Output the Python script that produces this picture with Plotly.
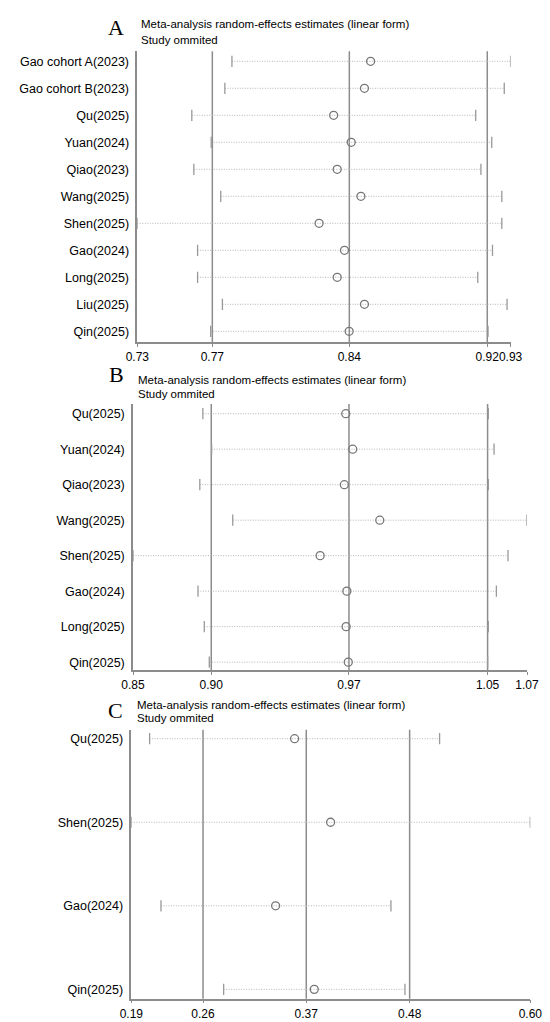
import plotly.graph_objects as go

# panel A
a_studies = ["Gao cohort A(2023)", "Gao cohort B(2023)", "Qu(2025)", "Yuan(2024)", "Qiao(2023)",
             "Wang(2025)", "Shen(2025)", "Gao(2024)", "Long(2025)", "Liu(2025)", "Qin(2025)"]
a_est = [0.8550, 0.8517, 0.8352, 0.8446, 0.8371, 0.8498, 0.8274, 0.8410, 0.8371, 0.8517, 0.8435]
a_lo = [0.7807, 0.7769, 0.7592, 0.7696, 0.7603, 0.7747, 0.7300, 0.7623, 0.7623, 0.7756, 0.7693]
a_hi = [0.9300, 0.9266, 0.9113, 0.9199, 0.9141, 0.9253, 0.9253, 0.9203, 0.9124, 0.9281, 0.9179]
a_lines = [0.7702, 0.8436, 0.9175]
a_ticks = [0.73, 0.7702, 0.8436, 0.9175, 0.93]
a_ticklabels = ["0.73", "0.77", "0.84", "0.92", "0.93"]

# panel B
b_studies = ["Qu(2025)", "Yuan(2024)", "Qiao(2023)", "Wang(2025)", "Shen(2025)",
             "Gao(2024)", "Long(2025)", "Qin(2025)"]
b_est = [0.9688, 0.9727, 0.9680, 0.9878, 0.9545, 0.9694, 0.9690, 0.9702]
b_lo = [0.8890, 0.8939, 0.8873, 0.9057, 0.8500, 0.8863, 0.8898, 0.8926]
b_hi = [1.0484, 1.0516, 1.0484, 1.0700, 1.0594, 1.0529, 1.0484, 1.0480]
b_lines = [0.8937, 0.9706, 1.0480]
b_ticks = [0.85, 0.8937, 0.9706, 1.0480, 1.07]
b_ticklabels = ["0.85", "0.90", "0.97", "1.05", "1.07"]

# panel C
c_studies = ["Qu(2025)", "Shen(2025)", "Gao(2024)", "Qin(2025)"]
c_est = [0.3578, 0.3948, 0.3383, 0.3780]
c_lo = [0.2088, 0.1900, 0.2205, 0.2849]
c_hi = [0.5068, 0.6000, 0.4568, 0.4712]
c_lines = [0.2637, 0.3698, 0.4760]
c_ticks = [0.19, 0.2637, 0.3698, 0.4760, 0.60]
c_ticklabels = ["0.19", "0.26", "0.37", "0.48", "0.60"]

W, H = 550, 1022
GREY = "#8c8c8c"
FONT = "Liberation Sans, Arial, sans-serif"

fig = go.Figure()


def add_panel(n, studies, est, lo, hi, lines, ticks, ticklabels,
              xdom, ydom, ypad_top, ypad_bot):
    xa = "x" if n == 1 else "x%d" % n
    ya = "y" if n == 1 else "y%d" % n
    rows = list(range(1, len(studies) + 1))

    # dotted CI lines
    for r, l, h in zip(rows, lo, hi):
        fig.add_trace(go.Scatter(x=[l, h], y=[r, r], mode="lines", xaxis=xa, yaxis=ya,
                                 line=dict(color="#b5b5b5", width=1, dash="1px,1.5px"),
                                 showlegend=False, hoverinfo="skip"))
    # end caps
    fig.add_trace(go.Scatter(x=lo + hi, y=rows + rows, mode="markers", xaxis=xa, yaxis=ya,
                             marker=dict(symbol="line-ns", size=8, color="#999999",
                                         line=dict(color="#999999", width=1.3)),
                             showlegend=False, hoverinfo="skip"))
    # reference lines
    for v in lines:
        fig.add_shape(type="line", xref=xa, yref=ya + " domain", x0=v, x1=v, y0=0, y1=1,
                      line=dict(color=GREY, width=1.5), layer="below")
    # point estimates
    fig.add_trace(go.Scatter(x=est, y=rows, mode="markers", xaxis=xa, yaxis=ya,
                             marker=dict(symbol="circle-open", size=8, color="#767676",
                                         line=dict(color="#767676", width=1.3)),
                             showlegend=False))

    key = "" if n == 1 else str(n)
    fig.layout["xaxis" + key] = dict(
        domain=xdom, anchor=ya, range=[ticks[0], ticks[-1]],
        tickvals=ticks, ticktext=ticklabels, tickangle=0, automargin=False,
        showgrid=False, zeroline=False,
        showline=True, linecolor=GREY, linewidth=1.5,
        ticks="outside", ticklen=3, tickcolor=GREY, tickwidth=1,
        tickfont=dict(family=FONT, size=12, color="black"),
    )
    fig.layout["yaxis" + key] = dict(
        domain=ydom, anchor=xa, automargin=False,
        range=[len(studies) + ypad_bot, 1 - ypad_top],
        tickvals=rows, ticktext=studies, showgrid=False, zeroline=False,
        showline=True, linecolor=GREY, linewidth=1.5, ticks="",
        ticklabelstandoff=4,
        tickfont=dict(family=FONT, size=12.5, color="black"),
    )


def px_x(v):
    return v / W


def px_y(v):
    return 1 - v / H


add_panel(1, a_studies, a_est, a_lo, a_hi, a_lines, a_ticks, a_ticklabels,
          [px_x(129.3), px_x(502.6)], [px_y(334), px_y(43.3)], 0.37, 0.396)
add_panel(2, b_studies, b_est, b_lo, b_hi, b_lines, b_ticks, b_ticklabels,
          [px_x(125), px_x(519)], [px_y(662.3), px_y(396)], 0.273, 0.23)
add_panel(3, c_studies, c_est, c_lo, c_hi, c_lines, c_ticks, c_ticklabels,
          [px_x(123.3), px_x(522.3)], [px_y(990.7), px_y(721.7)], 0.108, 0.112)

# panel letters and titles
letters = [("A", 108, 19), ("B", 108, 366), ("C", 107.5, 702)]
for txt, x, y in letters:
    fig.add_annotation(text=txt, x=px_x(x), y=px_y(y), xref="paper", yref="paper",
                       xanchor="center", yanchor="middle", showarrow=False,
                       font=dict(family="Liberation Serif, Times New Roman, serif", size=22,
                                 color="black"))

titles = [(131, 16, 31.7), (128.3, 371.7, 385.7), (126.7, 696.7, 710)]
for x, y1, y2 in titles:
    fig.add_annotation(text="Meta-analysis random-effects estimates (linear form)",
                       x=px_x(x), y=px_y(y1), xref="paper", yref="paper",
                       xanchor="left", yanchor="middle", showarrow=False,
                       font=dict(family=FONT, size=11.5, color="black"))
    fig.add_annotation(text="Study ommited",
                       x=px_x(x), y=px_y(y2), xref="paper", yref="paper",
                       xanchor="left", yanchor="middle", showarrow=False,
                       font=dict(family=FONT, size=11.5, color="black"))

fig.update_layout(template="none", width=W, height=H, margin=dict(l=0, r=0, t=0, b=0),
                  plot_bgcolor="white", paper_bgcolor="white", showlegend=False)

fig.write_html("out.html")
